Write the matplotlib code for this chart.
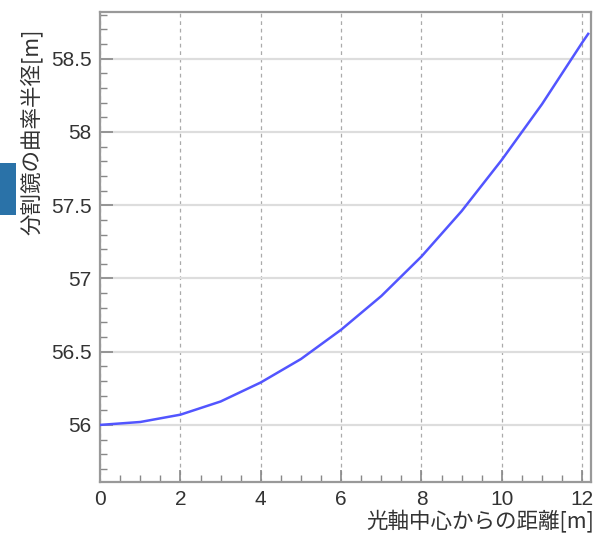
import matplotlib
matplotlib.use("Agg")
import matplotlib.pyplot as plt
from matplotlib.ticker import MultipleLocator
from matplotlib.patches import Rectangle

plt.rcParams['font.family'] = ['Liberation Sans', 'Noto Sans CJK JP', 'DejaVu Sans']

# data
dist = [0, 1, 2, 3, 4, 5, 6, 7, 8, 9, 10, 11, 12, 12.15]
radius = [56.00, 56.02, 56.07, 56.16, 56.29, 56.45, 56.65, 56.88, 57.15,
          57.46, 57.81, 58.19, 58.61, 58.67]
xticks = [0, 2, 4, 6, 8, 10, 12]
yticks = [56, 56.5, 57, 57.5, 58, 58.5]
ytick_labels = ["56", "56.5", "57", "57.5", "58", "58.5"]
xlabel = "光軸中心からの距離[m]"
ylabel = "分割鏡の曲率半径[m]"

fig = plt.figure(figsize=(5.96, 5.41), dpi=100)
ax = fig.add_axes([0.168, 0.109, 0.8236, 0.869])

ax.plot(dist, radius, color='#5255ff', lw=1.8, zorder=3)

ax.set_xlim(0, 12.22)
ax.set_ylim(55.61, 58.82)
ax.set_xticks(xticks)
ax.set_xticklabels([str(t) for t in xticks])
ax.set_yticks(yticks)
ax.set_yticklabels(ytick_labels)
ax.xaxis.set_minor_locator(MultipleLocator(0.5))
ax.yaxis.set_minor_locator(MultipleLocator(0.1))

ax.tick_params(which='both', direction='in', top=False, right=False,
               colors='#888888', labelcolor='#333333')
ax.tick_params(which='major', length=9, width=1.2, labelsize=15, pad=6)
ax.tick_params(which='minor', length=5, width=1.0)

ax.grid(axis='x', which='major', color='#aaaaaa', ls=(0, (3, 3)), lw=0.9)
ax.grid(axis='y', which='major', color='#dddddd', ls='-', lw=1.6)
ax.set_axisbelow(True)

for s in ax.spines.values():
    s.set_color('#999999')
    s.set_linewidth(1.6)

fig.text(0.997, 0.035, xlabel, ha='right', va='center', fontsize=15.5, color='#333333',
         family=['Noto Sans CJK JP', 'DejaVu Sans'])
fig.text(0.052, 0.947, ylabel, ha='center', va='top', rotation=90, fontsize=15.5, color='#333333',
         family=['Noto Sans CJK JP', 'DejaVu Sans'])

fig.patches.append(Rectangle((0, 1 - 215/541), 16/596, 52/541, transform=fig.transFigure,
                             facecolor='#2a72a8', edgecolor='none', figure=fig))

fig.savefig("out.png", dpi=100)
